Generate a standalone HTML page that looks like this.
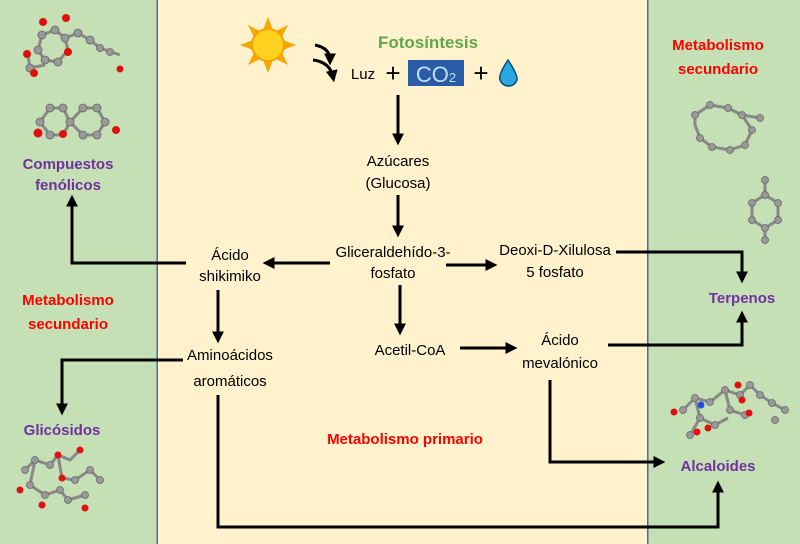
<!DOCTYPE html>
<html><head><meta charset="utf-8"><style>
html,body{margin:0;padding:0;background:#fff2cc}
svg{display:block}
text{font-family:"Liberation Sans",sans-serif}
.t{font-size:15px;fill:#000;text-anchor:middle}
.p{font-size:15px;font-weight:bold;fill:#7030a0;text-anchor:middle}
.r{font-size:15px;font-weight:bold;fill:#ff0000;text-anchor:middle}
.a{stroke:#000;stroke-width:3;fill:none}
.g{fill:#999;stroke:#666;stroke-width:.8}
.o{fill:#e01010}
.b{stroke:#888;stroke-width:3;fill:none}
</style></head><body>
<svg width="800" height="544" viewBox="0 0 800 544">
<defs><marker id="m" markerWidth="4" markerHeight="4" refX="2.2" refY="2" orient="auto" markerUnits="strokeWidth"><path d="M0,0 L4,2 L0,4 z" fill="#000"/></marker></defs>
<rect x="0" y="0" width="157" height="544" fill="#c5e0b4"/>
<rect x="648" y="0" width="152" height="544" fill="#c5e0b4"/>
<rect x="156.5" y="0" width="1.5" height="544" fill="#4a6aa8"/>
<rect x="647" y="0" width="1.5" height="544" fill="#4a6aa8"/>

<g transform="translate(268,45)">
<g fill="#f7a800">
<polygon points="0,-28 5,-15 -5,-15"/><polygon points="0,28 5,15 -5,15"/><polygon points="-28,0 -15,5 -15,-5"/><polygon points="28,0 15,5 15,-5"/>
<polygon points="20,-20 8,-14 14,-8"/><polygon points="-20,-20 -8,-14 -14,-8"/><polygon points="20,20 8,14 14,8"/><polygon points="-20,20 -8,14 -14,8"/>
</g>
<circle r="16" fill="#ffd21f" stroke="#f5a300" stroke-width="2"/>
</g>
<path d="M315,45 Q330,48 330,60" class="a" stroke-width="2.5" marker-end="url(#m)"/>
<path d="M313,60 Q330,62 333,77" class="a" stroke-width="2.5" marker-end="url(#m)"/>
<text x="428" y="48" style="font-size:17px;font-weight:bold;fill:#5fa84a;text-anchor:middle">Fotosíntesis</text>
<text x="363" y="79" class="t">Luz</text>
<text x="393" y="82" style="font-size:26px;text-anchor:middle">+</text>
<rect x="408" y="60" width="56" height="26" fill="#2a5ba8"/>
<text x="436" y="82" style="font-size:22px;fill:#bfe0ff;text-anchor:middle">CO<tspan font-size="13">2</tspan></text>
<text x="481" y="82" style="font-size:26px;text-anchor:middle">+</text>
<path d="M508,60 Q498,75 500,80 A9,9 0 0 0 517,80 Q518,75 508,60z" fill="#29a8e0" stroke="#0a4a80" stroke-width="1.5"/>

<path d="M398,95 V140" class="a" marker-end="url(#m)"/>
<text x="398" y="166" class="t">Azúcares</text>
<text x="398" y="188" class="t">(Glucosa)</text>
<path d="M398,195 V232" class="a" marker-end="url(#m)"/>
<text x="393" y="257" class="t">Gliceraldehído-3-</text>
<text x="393" y="278" class="t">fosfato</text>
<path d="M330,263 H268" class="a" marker-end="url(#m)"/>
<text x="230" y="260" class="t">Ácido</text>
<text x="230" y="281" class="t">shikimiko</text>
<path d="M186,263 H72 V200" class="a" marker-end="url(#m)"/>
<text x="68" y="169" class="p">Compuestos</text>
<text x="68" y="190" class="p">fenólicos</text>
<path d="M446,265 H492" class="a" marker-end="url(#m)"/>
<text x="555" y="255" class="t">Deoxi-D-Xilulosa</text>
<text x="555" y="277" class="t">5 fosfato</text>
<path d="M616,252 H742 V278" class="a" marker-end="url(#m)"/>
<text x="742" y="303" class="p">Terpenos</text>
<path d="M218,290 V338" class="a" marker-end="url(#m)"/>
<text x="230" y="360" class="t">Aminoácidos</text>
<text x="230" y="386" class="t">aromáticos</text>
<path d="M183,360 H62 V410" class="a" marker-end="url(#m)"/>
<text x="62" y="435" class="p">Glicósidos</text>
<path d="M400,285 V330" class="a" marker-end="url(#m)"/>
<text x="410" y="355" class="t">Acetil-CoA</text>
<path d="M460,348 H512" class="a" marker-end="url(#m)"/>
<text x="560" y="345" class="t">Ácido</text>
<text x="560" y="368" class="t">mevalónico</text>
<path d="M608,345 H742 V316" class="a" marker-end="url(#m)"/>
<path d="M550,380 V462 H660" class="a" marker-end="url(#m)"/>
<text x="718" y="471" class="p">Alcaloides</text>
<path d="M218,395 V527 H718 V486" class="a" marker-end="url(#m)"/>
<text x="405" y="444" class="r">Metabolismo primario</text>
<text x="718" y="50" class="r">Metabolismo</text>
<text x="718" y="74" class="r">secundario</text>
<text x="68" y="305" class="r">Metabolismo</text>
<text x="68" y="329" class="r">secundario</text>

<g>
<path class="b" d="M42,35 L55,30 L65,38 L78,33 L90,40 L100,48 L120,55 M42,35 L38,50 L45,60 L58,62 M65,38 L68,50 L58,62 M28,55 L30,68 L45,65"/>
<circle class="g" cx="42" cy="35" r="4"/><circle class="g" cx="55" cy="30" r="4"/><circle class="g" cx="65" cy="38" r="4"/><circle class="g" cx="78" cy="33" r="4"/><circle class="g" cx="90" cy="40" r="4"/><circle class="g" cx="100" cy="48" r="3.5"/><circle class="g" cx="110" cy="52" r="3.5"/><circle class="g" cx="38" cy="50" r="4"/><circle class="g" cx="45" cy="60" r="4"/><circle class="g" cx="58" cy="62" r="4"/><circle class="g" cx="30" cy="68" r="4"/>
<circle class="o" cx="43" cy="22" r="4"/><circle class="o" cx="66" cy="18" r="4"/><circle class="o" cx="68" cy="52" r="4"/><circle class="o" cx="27" cy="54" r="4"/><circle class="o" cx="34" cy="73" r="4"/><circle class="o" cx="120" cy="69" r="3.5"/>
</g>
<g>
<path class="b" d="M40,122 L50,108 L63,108 L70,122 L83,108 L97,108 L105,122 L97,135 L83,135 L70,122 L63,135 L50,135 Z"/>
<circle class="g" cx="40" cy="122" r="4"/><circle class="g" cx="50" cy="108" r="4"/><circle class="g" cx="63" cy="108" r="4"/><circle class="g" cx="70" cy="122" r="4"/><circle class="g" cx="83" cy="108" r="4"/><circle class="g" cx="97" cy="108" r="4"/><circle class="g" cx="105" cy="122" r="4"/><circle class="g" cx="97" cy="135" r="4"/><circle class="g" cx="83" cy="135" r="4"/><circle class="g" cx="50" cy="135" r="4"/>
<circle class="o" cx="38" cy="133" r="4.5"/><circle class="o" cx="63" cy="134" r="4"/><circle class="o" cx="116" cy="130" r="4"/>
</g>
<g>
<path class="b" d="M25,470 L35,460 L50,465 L58,455 L70,460 L80,450 M35,460 L30,485 L45,495 L60,490 L68,500 L85,495 M58,455 L62,478 L75,480 L90,470 L100,480"/>
<circle class="g" cx="25" cy="470" r="3.5"/><circle class="g" cx="35" cy="460" r="3.5"/><circle class="g" cx="50" cy="465" r="3.5"/><circle class="g" cx="30" cy="485" r="3.5"/><circle class="g" cx="45" cy="495" r="3.5"/><circle class="g" cx="60" cy="490" r="3.5"/><circle class="g" cx="68" cy="500" r="3.5"/><circle class="g" cx="85" cy="495" r="3.5"/><circle class="g" cx="75" cy="480" r="3.5"/><circle class="g" cx="90" cy="470" r="3.5"/><circle class="g" cx="100" cy="480" r="3.5"/>
<circle class="o" cx="58" cy="455" r="3.5"/><circle class="o" cx="80" cy="450" r="3.5"/><circle class="o" cx="62" cy="478" r="3.5"/><circle class="o" cx="42" cy="505" r="3.5"/><circle class="o" cx="85" cy="508" r="3.5"/><circle class="o" cx="20" cy="490" r="3.5"/>
</g>
<g>
<path class="b" d="M695,115 L710,105 L728,108 L742,115 L752,130 L745,145 L730,150 L712,147 L700,138 L695,125 Z M742,115 L760,118"/>
<circle class="g" cx="695" cy="115" r="3.5"/><circle class="g" cx="710" cy="105" r="3.5"/><circle class="g" cx="728" cy="108" r="3.5"/><circle class="g" cx="742" cy="115" r="3.5"/><circle class="g" cx="752" cy="130" r="3.5"/><circle class="g" cx="745" cy="145" r="3.5"/><circle class="g" cx="730" cy="150" r="3.5"/><circle class="g" cx="712" cy="147" r="3.5"/><circle class="g" cx="700" cy="138" r="3.5"/><circle class="g" cx="760" cy="118" r="3.5"/>
</g>
<g>
<path class="b" d="M765,180 L765,195 L752,203 L752,220 L765,228 L778,220 L778,203 L765,195 M765,228 L765,240"/>
<circle class="g" cx="765" cy="180" r="3.5"/><circle class="g" cx="765" cy="195" r="3.5"/><circle class="g" cx="752" cy="203" r="3.5"/><circle class="g" cx="752" cy="220" r="3.5"/><circle class="g" cx="765" cy="228" r="3.5"/><circle class="g" cx="778" cy="220" r="3.5"/><circle class="g" cx="778" cy="203" r="3.5"/><circle class="g" cx="765" cy="240" r="3.5"/>
</g>
<g>
<path class="b" d="M683,410 L695,398 L710,402 L725,390 L740,395 L750,385 L760,395 L772,403 L785,410 M695,398 L700,418 L715,425 L728,418 M725,390 L730,410 L745,415 M690,435 L700,418"/>
<circle class="g" cx="683" cy="410" r="3.5"/><circle class="g" cx="695" cy="398" r="3.5"/><circle class="g" cx="710" cy="402" r="3.5"/><circle class="g" cx="725" cy="390" r="3.5"/><circle class="g" cx="740" cy="395" r="3.5"/><circle class="g" cx="750" cy="385" r="3.5"/><circle class="g" cx="760" cy="395" r="3.5"/><circle class="g" cx="772" cy="403" r="3.5"/><circle class="g" cx="785" cy="410" r="3.5"/><circle class="g" cx="775" cy="420" r="3.5"/><circle class="g" cx="700" cy="418" r="3.5"/><circle class="g" cx="715" cy="425" r="3.5"/><circle class="g" cx="730" cy="410" r="3.5"/><circle class="g" cx="745" cy="415" r="3.5"/><circle class="g" cx="690" cy="435" r="3.5"/>
<circle class="o" cx="674" cy="412" r="3.5"/><circle class="o" cx="738" cy="385" r="3.5"/><circle class="o" cx="742" cy="400" r="3.5"/><circle class="o" cx="749" cy="413" r="3.5"/><circle class="o" cx="708" cy="428" r="3.5"/><circle class="o" cx="697" cy="432" r="3.5"/><circle cx="701" cy="405" r="3.5" fill="#2050e0"/>
</g>
</svg>
</body></html>
